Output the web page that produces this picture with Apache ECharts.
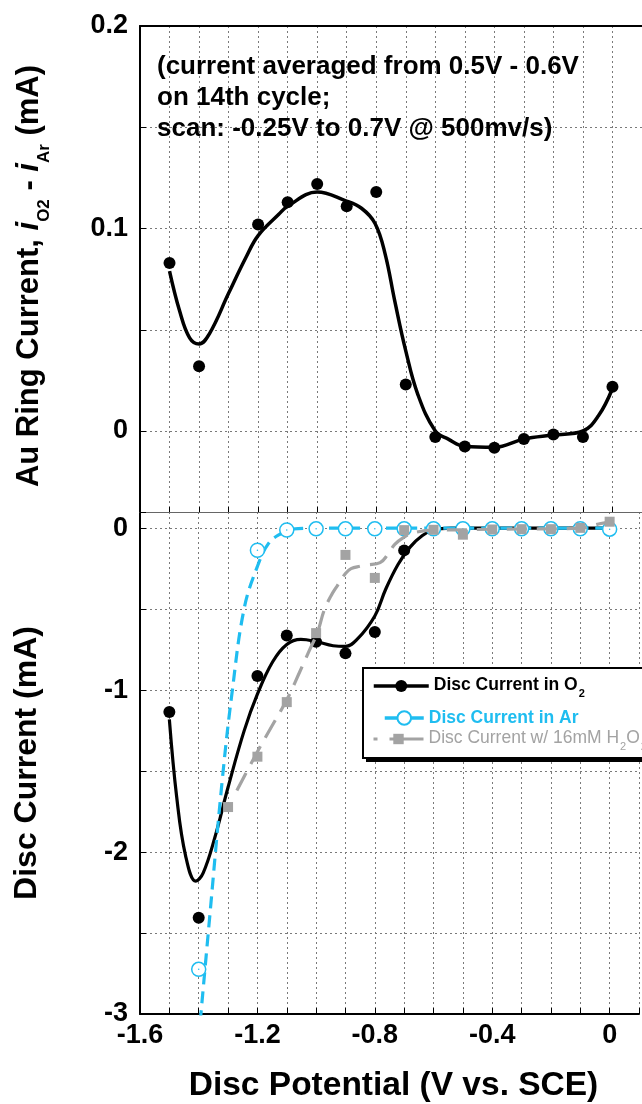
<!DOCTYPE html>
<html><head><meta charset="utf-8">
<script src="https://cdn.jsdelivr.net/npm/echarts@6/dist/echarts.min.js"></script>
<style>html,body{margin:0;padding:0;background:#fff}#c{width:642px;height:1104px}</style>
</head><body><div id="c"></div><script>
const FONT = '"Liberation Sans", Arial, Helvetica, sans-serif';
const CYAN = '#1fbdf0';
const GRAY = '#a3a3a3';

// tick labels
const xTickLabels = [-1.6, -1.2, -0.8, -0.4, 0];
const ringTickLabels = [0, 0.1, 0.2];
const discTickLabels = [-3, -2, -1, 0];

// Au ring current (points)
const ringPotential = [-1.5, -1.4, -1.2, -1.1, -1.0, -0.9, -0.8, -0.7, -0.6, -0.5, -0.4, -0.3, -0.2, -0.1, 0];
const ringCurrent   = [0.083, 0.032, 0.102, 0.113, 0.122, 0.111, 0.118, 0.023, -0.003, -0.0076, -0.0083, -0.0039, -0.0017, -0.003, 0.0219];
// Au ring current (fitted curve)
const ringFitPotential = [-1.5, -1.466, -1.432, -1.4, -1.365, -1.3, -1.241, -1.2, -1.13, -1.1, -1.0, -0.905, -0.85, -0.804, -0.77, -0.737, -0.70, -0.659, -0.6, -0.556, -0.5, -0.4, -0.3, -0.2, -0.1, -0.047, 0];
const ringFitCurrent   = [0.079, 0.0594, 0.046, 0.043, 0.048, 0.068, 0.0858, 0.0965, 0.107, 0.111, 0.118, 0.1138, 0.11, 0.1025, 0.0875, 0.064, 0.0396, 0.018, 0.0, -0.004, -0.0076, -0.008, -0.004, -0.002, 0.0, 0.0076, 0.021];

// Disc current in O2
const o2Potential = [-1.5, -1.4, -1.2, -1.1, -1.0, -0.9, -0.8, -0.7, -0.6, -0.5, -0.4, -0.3, -0.2, -0.1, 0];
const o2Current   = [-1.135, -2.405, -0.913, -0.662, -0.702, -0.773, -0.641, -0.137, -0.006, 0, 0, 0, 0, 0, 0];
const o2FitPotential = [-1.5, -1.475, -1.445, -1.41, -1.385, -1.345, -1.3, -1.245, -1.2, -1.148, -1.1, -1.052, -1.0, -0.942, -0.9, -0.859, -0.8, -0.763, -0.721, -0.68, -0.639, -0.6, -0.54, 0];
const o2FitCurrent   = [-1.18, -1.66, -2.02, -2.18, -2.13, -1.91, -1.6, -1.25, -1.025, -0.825, -0.718, -0.687, -0.70, -0.726, -0.73, -0.684, -0.542, -0.377, -0.224, -0.117, -0.047, -0.011, 0, 0];

// Disc current in Ar
const arPotential = [-1.4, -1.2, -1.1, -1.0, -0.9, -0.8, -0.7, -0.6, -0.5, -0.4, -0.3, -0.2, -0.1, 0];
const arCurrent   = [-2.724, -0.136, -0.011, -0.004, -0.004, -0.004, -0.004, -0.004, -0.004, -0.004, -0.004, -0.004, -0.004, -0.006];
const arFitPotential = [-1.395, -1.365, -1.32, -1.286, -1.245, -1.2, -1.162, -1.121, -1.08, -1.0, 0];
const arFitCurrent   = [-3.05, -2.45, -1.56, -1.01, -0.495, -0.236, -0.094, -0.035, -0.005, 0, 0];

// Disc current with 16 mM H2O2
const h2o2Potential = [-1.3, -1.2, -1.1, -1.0, -0.9, -0.8, -0.7, -0.6, -0.5, -0.4, -0.3, -0.2, -0.1, 0];
const h2o2Current   = [-1.722, -1.411, -1.074, -0.648, -0.165, -0.307, -0.012, -0.01, -0.04, -0.008, -0.006, -0.006, 0.002, 0.04];
const h2o2FitPotential = [-1.27, -1.2, -1.15, -1.1, -1.056, -1.023, -0.995, -0.973, -0.95, -0.928, -0.9, -0.881, -0.85, -0.827, -0.782, -0.755, -0.732, -0.7, -0.67, -0.6, -0.5, -0.4, -0.3, -0.2, -0.1, -0.03, 0];
const h2o2FitCurrent   = [-1.62, -1.38, -1.22, -1.06, -0.888, -0.755, -0.642, -0.509, -0.42, -0.356, -0.28, -0.25, -0.235, -0.227, -0.213, -0.16, -0.1, -0.055, -0.029, -0.012, -0.01, -0.006, -0.005, -0.004, 0.0, 0.029, 0.038];

const zip = (xs, ys) => xs.map((x, i) => [x, ys[i]]);
const inList = (list, v) => list.some(t => Math.abs(t - v) < 1e-6);
const fmtNum = v => (Math.abs(v) < 1e-9 ? '0' : String(+v.toFixed(2)));

const GRID_LINE = { show: true, lineStyle: { color: '#7a7a7a', type: [2, 3], width: 1 } };

const chart = echarts.init(document.getElementById('c'), null, { renderer: 'canvas' });
chart.setOption({
  animation: false,
  backgroundColor: '#fff',
  textStyle: { fontFamily: FONT },
  title: {
    text: '(current averaged from 0.5V - 0.6V\non 14th cycle;\nscan: -0.25V to 0.7V @ 500mv/s)',
    left: 157, top: 51, padding: 0,
    textStyle: { fontFamily: FONT, fontSize: 26, fontWeight: 'bold', color: '#000', lineHeight: 31 }
  },
  grid: [
    { left: 140, top: 26, width: 506, height: 486 },
    { left: 140, top: 512, width: 506, height: 504 }
  ],
  xAxis: [
    { type: 'value', gridIndex: 0, min: -1.6, max: 0.1, interval: 0.1, position: 'bottom',
      axisLine: { show: true, onZero: false, lineStyle: { color: '#666', width: 1 } },
      axisTick: { show: true, inside: true, length: 5, lineStyle: { color: '#000' } },
      axisLabel: { show: false }, splitLine: GRID_LINE },
    { type: 'value', gridIndex: 0, min: -1.6, max: 0.1, interval: 0.1, position: 'top',
      axisLine: { show: true, onZero: false, lineStyle: { color: '#000', width: 2 } },
      axisTick: { show: false }, axisLabel: { show: false }, splitLine: { show: false } },
    { type: 'value', gridIndex: 1, min: -1.6, max: 0.1, interval: 0.1, position: 'bottom',
      axisLine: { show: true, onZero: false, lineStyle: { color: '#000', width: 2 } },
      axisTick: { show: true, inside: true, length: 6, lineStyle: { color: '#000' } },
      axisLabel: { show: true, margin: 8, fontFamily: FONT, fontSize: 27, fontWeight: 'bold', color: '#000',
        formatter: v => inList(xTickLabels, v) ? fmtNum(v) : '' },
      splitLine: GRID_LINE,
      name: 'Disc Potential (V vs. SCE)', nameLocation: 'middle', nameGap: 55,
      nameTextStyle: { fontFamily: FONT, fontSize: 33.5, fontWeight: 'bold', color: '#000', padding: [0, 0, 0, 8] } }
  ],
  yAxis: [
    { type: 'value', gridIndex: 0, min: -0.04, max: 0.2, splitNumber: 5,
      axisLine: { show: true, onZero: false, lineStyle: { color: '#000', width: 2 } },
      axisTick: { show: true, inside: true, length: 6, lineStyle: { color: '#000' } },
      axisLabel: { show: true, margin: 12, fontFamily: FONT, fontSize: 27, fontWeight: 'bold', color: '#000',
        formatter: v => inList(ringTickLabels, v) ? fmtNum(v) : '' },
      splitLine: GRID_LINE,
      name: '{n|Au Ring Current, }{i|i}{s|O2}{n| - }{i|i}{s|Ar}{n| (mA)}',
      nameLocation: 'middle', nameRotate: 90, nameGap: 92,
      nameTextStyle: { padding: [0, 14, 0, 0], rich: {
        n: { fontFamily: FONT, fontSize: 31, fontWeight: 'bold', color: '#000', lineHeight: 34, verticalAlign: 'top' },
        i: { fontFamily: FONT, fontSize: 31, fontWeight: 'bold', fontStyle: 'italic', color: '#000', lineHeight: 34, verticalAlign: 'top' },
        s: { fontFamily: FONT, fontSize: 17, fontWeight: 'bold', color: '#000', lineHeight: 17, padding: [22, 0, 0, 0], verticalAlign: 'top' }
      } } },
    { type: 'value', gridIndex: 1, min: -3, max: 0.1, splitNumber: 6,
      axisLine: { show: true, onZero: false, lineStyle: { color: '#000', width: 2 } },
      axisTick: { show: true, inside: true, length: 6, lineStyle: { color: '#000' } },
      axisLabel: { show: true, margin: 12, fontFamily: FONT, fontSize: 27, fontWeight: 'bold', color: '#000',
        formatter: v => inList(discTickLabels, v) ? fmtNum(v) : '' },
      splitLine: GRID_LINE,
      name: 'Disc Current (mA)', nameLocation: 'middle', nameRotate: 90, nameGap: 97,
      nameTextStyle: { fontFamily: FONT, fontSize: 32, fontWeight: 'bold', color: '#000' } }
  ],
  graphic: [
    { type: 'rect', z: 3, shape: { x: 366, y: 672, width: 300, height: 90 }, style: { fill: '#000' } },
    { type: 'rect', z: 3, shape: { x: 363, y: 668, width: 300, height: 90 }, style: { fill: '#fff', stroke: '#000', lineWidth: 2 } }
  ],
  legend: [
    { z: 5, data: ['Disc Current in O2'], left: 372, top: 676, orient: 'vertical', padding: 0,
      itemWidth: 55, itemHeight: 15,
      lineStyle: { width: 3.5, color: '#000' },
      itemStyle: { color: '#000', opacity: 1 },
      formatter: () => '{b|Disc Current in O}{s|2}',
      textStyle: { rich: {
        b: { fontFamily: FONT, fontSize: 17.5, fontWeight: 'bold', color: '#000', lineHeight: 20, verticalAlign: 'top' },
        s: { fontFamily: FONT, fontSize: 11, fontWeight: 'bold', color: '#000', lineHeight: 11, padding: [12, 0, 0, 1], verticalAlign: 'top' }
      } } },
    { z: 5, data: ['Disc Current in Ar'], left: 383, top: 709, orient: 'vertical', padding: 0,
      itemWidth: 39, itemHeight: 17,
      lineStyle: { width: 3.5, color: CYAN, type: 'solid' },
      formatter: () => '{b|Disc Current in Ar}',
      textStyle: { rich: {
        b: { fontFamily: FONT, fontSize: 17.5, fontWeight: 'bold', color: CYAN, lineHeight: 20 }
      } } },
    { z: 5, data: ['Disc Current w/ 16mM H2O2'], left: 372, top: 729, orient: 'vertical', padding: 0,
      itemWidth: 50, itemHeight: 13,
      lineStyle: { width: 3, color: GRAY, type: [4, 12, 100, 1] },
      itemStyle: { color: GRAY, opacity: 1 },
      formatter: () => '{b|Disc Current w/ 16mM H}{s|2}{b|O}{s|2}',
      textStyle: { rich: {
        b: { fontFamily: FONT, fontSize: 17.5, color: GRAY, lineHeight: 20, verticalAlign: 'top' },
        s: { fontFamily: FONT, fontSize: 11, color: GRAY, lineHeight: 11, padding: [12, 0, 0, 1], verticalAlign: 'top' }
      } } }
  ],
  series: [
    { name: 'ringFit', type: 'line', xAxisIndex: 0, yAxisIndex: 0, data: zip(ringFitPotential, ringFitCurrent),
      smooth: 0.4, showSymbol: false, symbol: 'none', lineStyle: { color: '#000', width: 3.5 }, z: 2 },
    { name: 'ring', type: 'scatter', xAxisIndex: 0, yAxisIndex: 0, data: zip(ringPotential, ringCurrent),
      symbol: 'circle', symbolSize: 12, itemStyle: { color: '#000', opacity: 1 }, z: 3 },

    { name: 'o2Fit', type: 'line', xAxisIndex: 2, yAxisIndex: 1, data: zip(o2FitPotential, o2FitCurrent),
      smooth: 0.4, symbol: 'none', lineStyle: { color: '#000', width: 3.2 }, z: 2 },
    { name: 'o2', type: 'scatter', xAxisIndex: 2, yAxisIndex: 1, data: zip(o2Potential, o2Current),
      symbol: 'circle', symbolSize: 12, itemStyle: { color: '#000', opacity: 1 }, z: 3 },

    { name: 'arFit', type: 'line', xAxisIndex: 2, yAxisIndex: 1, data: zip(arFitPotential, arFitCurrent),
      smooth: 0.4, symbol: 'none', lineStyle: { color: CYAN, width: 3.2, type: [12, 7] }, z: 4 },
    { name: 'ar', type: 'scatter', xAxisIndex: 2, yAxisIndex: 1, data: zip(arPotential, arCurrent),
      symbol: 'circle', symbolSize: 14, itemStyle: { color: '#fff', borderColor: CYAN, borderWidth: 1.5, opacity: 1 }, z: 5 },
    { name: 'arDot', type: 'scatter', xAxisIndex: 2, yAxisIndex: 1, data: zip(arPotential, arCurrent),
      symbol: 'circle', symbolSize: 1.5, itemStyle: { color: CYAN, opacity: 1 }, z: 5 },

    { name: 'h2o2Fit', type: 'line', xAxisIndex: 2, yAxisIndex: 1, data: zip(h2o2FitPotential, h2o2FitCurrent),
      smooth: 0.4, symbol: 'none', lineStyle: { color: GRAY, width: 3.2, type: [20, 10] }, z: 6 },
    { name: 'h2o2', type: 'scatter', xAxisIndex: 2, yAxisIndex: 1, data: zip(h2o2Potential, h2o2Current),
      symbol: 'rect', symbolSize: 10, itemStyle: { color: GRAY, opacity: 1 }, z: 7 },

    { name: 'Disc Current in O2', type: 'line', xAxisIndex: 2, yAxisIndex: 1, data: [],
      symbol: 'circle', symbolSize: 12, itemStyle: { color: '#000' }, lineStyle: { color: '#000', width: 3.5 } },
    { name: 'Disc Current in Ar', type: 'line', xAxisIndex: 2, yAxisIndex: 1, data: [],
      symbol: 'emptyCircle', symbolSize: 14, itemStyle: { color: CYAN, borderWidth: 1.5 }, lineStyle: { color: CYAN, width: 3.5 } },
    { name: 'Disc Current w/ 16mM H2O2', type: 'line', xAxisIndex: 2, yAxisIndex: 1, data: [],
      symbol: 'rect', symbolSize: 10, itemStyle: { color: GRAY }, lineStyle: { color: GRAY, width: 3, type: [4, 12, 100, 1] } }
  ]
});
</script></body></html>
